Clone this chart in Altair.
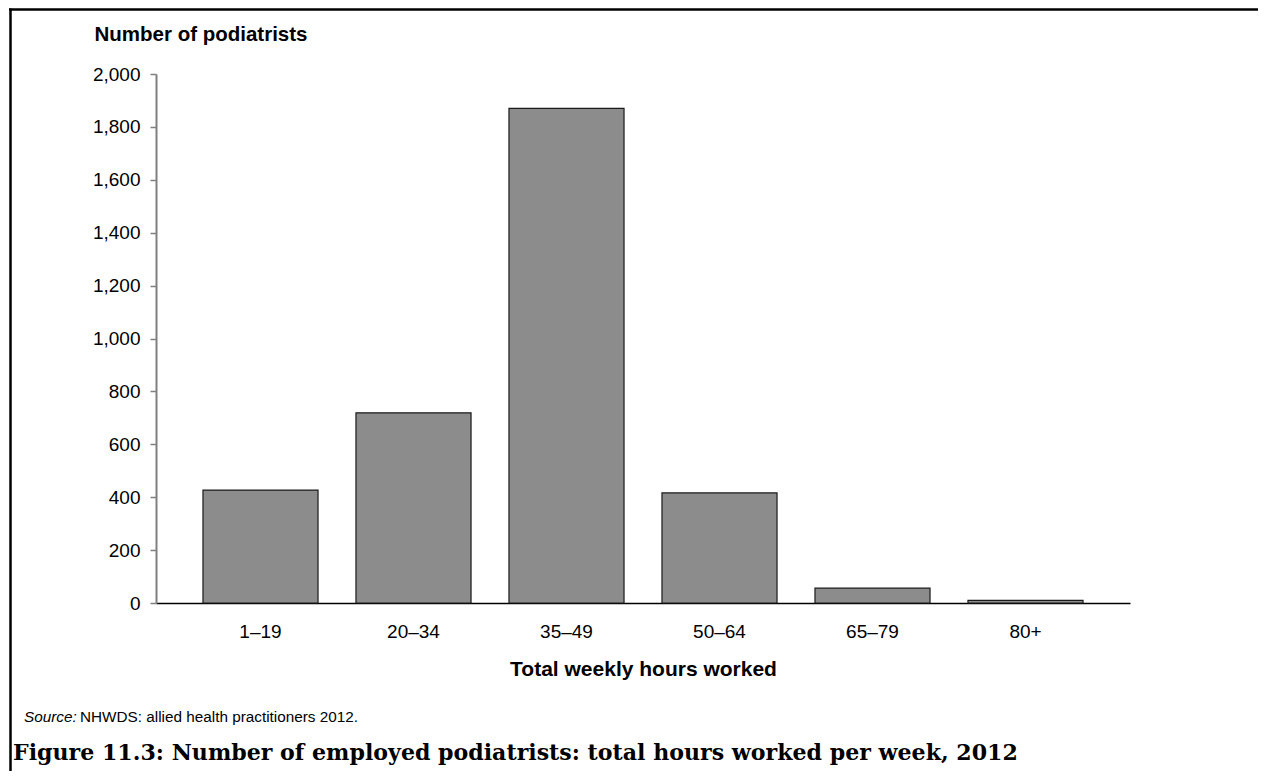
import altair as alt
import pandas as pd

categories = ["1–19", "20–34", "35–49", "50–64", "65–79", "80+"]
values = [427, 719, 1870, 416, 56, 10]
y_ticks = [0, 200, 400, 600, 800, 1000, 1200, 1400, 1600, 1800, 2000]

y_title = "Number of podiatrists"
x_title = "Total weekly hours worked"
source_label = "Source:"
source_text = "NHWDS: allied health practitioners 2012."
fig_title = "Figure 11.3: Number of employed podiatrists: total hours worked per week, 2012"

df = pd.DataFrame({"hours": categories, "count": values})

W, H = 974, 529
PL, PT = 148, 66
TOTAL_W, TOTAL_H = 1250, 763

bars = alt.Chart(df).mark_bar(
    color="#8c8c8c", stroke="#1a1a1a", strokeWidth=1.2
).encode(
    x=alt.X("hours:N", sort=categories,
            scale=alt.Scale(paddingInner=0.248, paddingOuter=0.307),
            axis=alt.Axis(title=x_title, labelAngle=0, ticks=False, tickSize=0,
                          labelPadding=19, labelFontSize=19, labelFont="Liberation Sans",
                          labelColor="black", domainColor="black", domainWidth=1.5,
                          titleFont="Liberation Sans", titleFontSize=21,
                          titleFontWeight="bold", titleColor="black",
                          titleY=66, titleBaseline="middle")),
    y=alt.Y("count:Q", scale=alt.Scale(domain=[0, 2000], nice=False),
            axis=alt.Axis(title=y_title, values=y_ticks, format=",d", grid=False,
                          tickSize=6, tickColor="#808080", tickWidth=1.5,
                          domainColor="#808080", domainWidth=2,
                          labelFontSize=19, labelFont="Liberation Sans",
                          labelColor="black", labelPadding=10,
                          titleAngle=0, titleAlign="left", titleBaseline="alphabetic",
                          titleX=-62, titleY=-34, titleFont="Liberation Sans",
                          titleFontSize=20.5, titleFontWeight="bold", titleColor="black")),
)

one = pd.DataFrame({"a": [0]})

border_top = alt.Chart(one).mark_rule(color="black", strokeWidth=2.5).encode(
    x=alt.value(-PL + 1), x2=alt.value(TOTAL_W - PL), y=alt.value(-PT + 1.5)
)
border_left = alt.Chart(one).mark_rule(color="black", strokeWidth=2.5).encode(
    x=alt.value(-PL + 2.5), y=alt.value(-PT + 0.5), y2=alt.value(TOTAL_H - PT)
)

src1 = alt.Chart(one).mark_text(
    text=source_label, font="Liberation Sans", fontSize=15.3, fontStyle="italic",
    align="left", baseline="middle", color="black"
).encode(x=alt.value(-132), y=alt.value(643))
src2 = alt.Chart(one).mark_text(
    text=source_text, font="Liberation Sans", fontSize=15.3,
    align="left", baseline="middle", color="black"
).encode(x=alt.value(-76), y=alt.value(643))

ftitle = alt.Chart(one).mark_text(
    text=fig_title, font="DejaVu Serif", fontSize=22.1, fontWeight="bold",
    align="left", baseline="alphabetic", color="black"
).encode(x=alt.value(-PL + 5), y=alt.value(686))

chart = alt.layer(bars, border_top, border_left, src1, src2, ftitle).properties(
    width=W, height=H,
    background="white",
    autosize=alt.AutoSizeParams(type="none"),
    padding={"left": PL, "top": PT, "right": TOTAL_W - PL - W, "bottom": TOTAL_H - PT - H},
).configure_view(strokeWidth=0, stroke="transparent")

chart.save("out.html", embed_options={"renderer": "svg", "actions": False})
